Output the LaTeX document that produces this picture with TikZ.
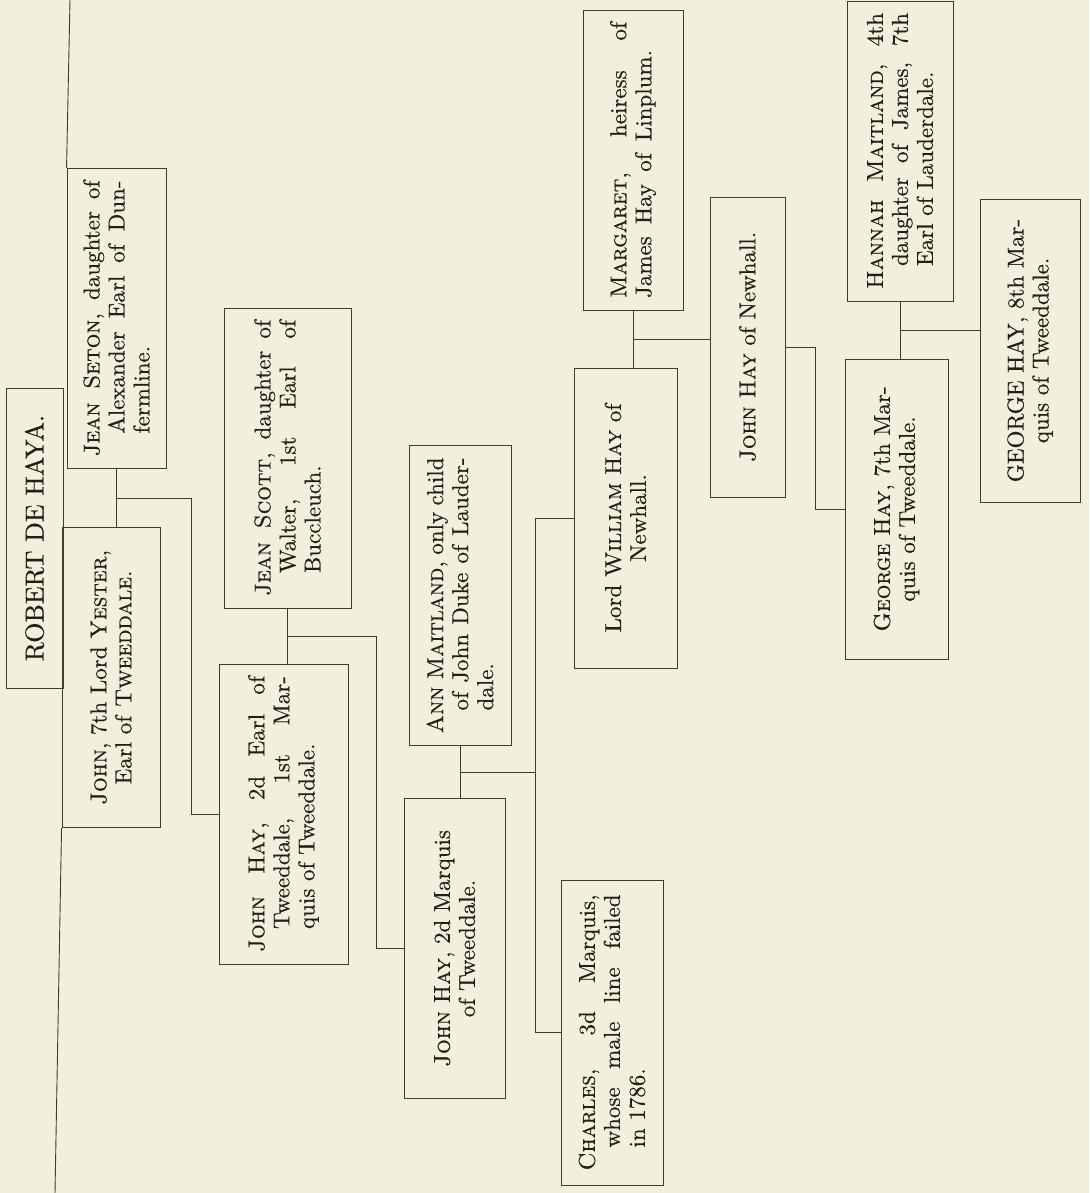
\documentclass[tikz,border=0pt]{standalone}
\usepackage{tikz}
\usepackage{fontspec}
\setmainfont{lmroman10-regular.otf}[FakeBold=0.4,
  SmallCapsFont=lmromancaps10-regular.otf,SmallCapsFeatures={FakeBold=0.4},
  BoldFont=lmroman10-bold.otf,ItalicFont=lmroman10-italic.otf]
\definecolor{paper}{RGB}{242,240,221}
\definecolor{rule}{RGB}{62,58,52}
\definecolor{ink}{RGB}{34,30,26}
\newcommand{\boxfont}{\fontsize{23}{25}\selectfont}
\newcommand{\namefont}{\fontsize{26}{30}\selectfont}
\newcommand{\hangtext}[1]{\noindent\hangindent=1em\hangafter=1 #1\par}

\begin{document}
\begin{tikzpicture}[x=1pt,y=1pt,line width=0.9pt,
  person/.style={draw=rule,rotate=90,minimum width=300pt,inner xsep=12pt,
    inner ysep=3pt,text width=276pt,font=\boxfont,text=ink},
  hangbox/.style={person,align=justify},
  midbox/.style={person,align=center}]

  \fill[paper] (0,0) rectangle (1089,-1193);
  \useasboundingbox (0,0) rectangle (1089,-1193);

  % first generation
  \node[midbox,font=\namefont,minimum height=57pt] (robert) at (34.5,-538) {ROBERT DE HAYA.};
  \node[hangbox,minimum height=99pt] (seton) at (116.5,-318.5)
    {\hangtext{\textsc{Jean Seton}, daughter of\linebreak Alexander Earl of Dun-\linebreak fermline.}};
  \node[midbox,minimum height=98pt] (yester) at (111,-677.5)
    {\textsc{John}, 7th Lord \textsc{Yester},\\Earl of \textsc{Tweeddale}.};

  % second and third generation
  \node[hangbox,minimum height=127pt] (scott) at (287.5,-458)
    {\hangtext{\textsc{Jean Scott}, daughter of\linebreak Walter, 1st Earl of\linebreak Buccleuch.}};
  \node[hangbox,minimum height=129pt] (hayearl) at (283.5,-814)
    {\hangtext{\textsc{John Hay}, 2d Earl of\linebreak Tweeddale, 1st Mar-\linebreak quis of Tweeddale.}};
  \node[hangbox,minimum height=102pt] (ann) at (460,-595.5)
    {\hangtext{\textsc{Ann Maitland}, only child\linebreak of John Duke of Lauder-\linebreak dale.}};
  \node[midbox,minimum height=101pt] (marquis) at (454.5,-948.5)
    {\textsc{John Hay}, 2d Marquis\\of Tweeddale.};

  % children of the 2d marquis
  \node[midbox,minimum height=103pt] (william) at (625.5,-518)
    {Lord \textsc{William Hay} of\\Newhall.};
  \node[hangbox,minimum height=102pt,minimum width=305pt] (charles) at (612,-1032.5)
    {\hangtext{\textsc{Charles}, 3d Marquis,\linebreak whose male line failed\linebreak in 1786.}};
  \node[hangbox,minimum height=100pt,minimum width=296pt] (margaret) at (633,-160)
    {\noindent\parfillskip=0pt plus 24pt \textsc{Margaret}, heiress of\linebreak James Hay of Linplum.\par};
  \node[midbox,minimum height=75pt] (newhall) at (747.5,-347)
    {\textsc{John Hay} of Newhall.};

  % last generations
  \node[hangbox,minimum height=106pt,minimum width=298pt] (hannah) at (900,-151)
    {\hangtext{\textsc{Hannah Maitland}, 4th\linebreak daughter of James, 7th\linebreak Earl of Lauderdale.}};
  \node[midbox,minimum height=103pt] (george7) at (896.5,-509)
    {\textsc{George Hay}, 7th Mar-\\quis of Tweeddale.};
  \node[midbox,minimum height=100pt,minimum width=303pt] (george8) at (1030,-350.5)
    {GEORGE HAY, 8th Mar-\\quis of Tweeddale.};

  % main stem
  \coordinate (lintop) at (70,0);
  \coordinate (linbot) at (55,-1193);
  \draw[rule] (lintop) -- (seton.north east);
  \draw[rule] (yester.north west) -- (linbot);

  % marriages
  \draw[rule] (seton.west) -- coordinate[midway] (m1) (seton.west |- yester.east);
  \draw[rule] (scott.west) -- coordinate[midway] (m2) (scott.west |- hayearl.east);
  \draw[rule] (ann.west) -- coordinate[midway] (m3) (ann.west |- marquis.east);
  \draw[rule] (margaret.west) -- coordinate[midway] (m4) (margaret.west |- william.east);
  \draw[rule] (hannah.west) -- coordinate[midway] (m5) (hannah.west |- george7.east);

  % issue
  \draw[rule] (m1) -| ([xshift=-27pt]hayearl.north) -- (hayearl.north);
  \draw[rule] (m2) -| ([xshift=-27pt]marquis.north) -- (marquis.north);
  \coordinate (spine) at ([xshift=-25pt]charles.north);
  \draw[rule] (william.north) -| (spine) -- (charles.north);
  \draw[rule] (m3) -- (m3 -| spine);
  \draw[rule] (m4) -- (m4 -| newhall.north);
  \draw[rule] (newhall.south) -- ++(30pt,0) |- (george7.north);
  \draw[rule] (m5) -- (m5 -| george8.north);
\end{tikzpicture}
\end{document}
